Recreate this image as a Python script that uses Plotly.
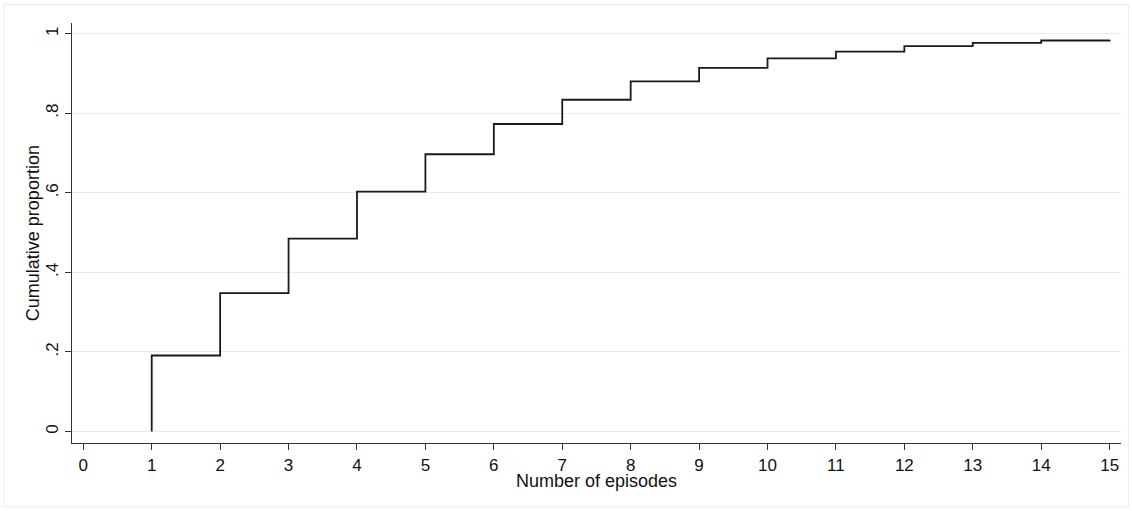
import plotly.graph_objects as go

# Data (cumulative proportion by number of episodes)
episodes = [1, 2, 3, 4, 5, 6, 7, 8, 9, 10, 11, 12, 13, 14, 15]
cum_prop = [0.191, 0.348, 0.485, 0.603, 0.697, 0.773, 0.834, 0.880, 0.914,
            0.938, 0.955, 0.969, 0.977, 0.983, 0.985]
start_x = [1]
start_y = [0.0]

x_ticks = list(range(0, 16))
y_ticks = [0, 0.2, 0.4, 0.6, 0.8, 1.0]
y_tick_labels = ["0", ".2", ".4", ".6", ".8", "1"]

FONT = "Liberation Sans, Arial, sans-serif"

fig = go.Figure()
fig.add_trace(go.Scatter(
    x=start_x + episodes,
    y=start_y + cum_prop,
    mode="lines",
    line=dict(color="#1a1a1a", width=1.8, shape="hv"),
    showlegend=False,
    hoverinfo="skip",
))

axis_common = dict(
    showline=True, linecolor="#333333", linewidth=1.4,
    ticks="outside", ticklen=6, tickwidth=1.4, tickcolor="#333333",
    tickfont=dict(family=FONT, size=17, color="#111111"),
    zeroline=False,
)

fig.update_xaxes(
    range=[-0.165, 15.166],
    tickvals=x_ticks,
    ticktext=[str(v) for v in x_ticks],
    showgrid=False,
    **axis_common,
)
fig.update_yaxes(
    range=[-0.029, 1.027],
    tickvals=y_ticks,
    ticktext=y_tick_labels,
    tickangle=-90,
    showgrid=True, gridcolor="#eaeaea", gridwidth=1.3,
    **axis_common,
)

fig.add_annotation(
    text="Number of episodes", xref="paper", yref="paper",
    x=0.5, y=-0.090, xanchor="center", yanchor="middle", showarrow=False,
    font=dict(family=FONT, size=18, color="#111111"),
)
fig.add_annotation(
    text="Cumulative proportion", xref="paper", yref="paper",
    x=-0.037, y=0.5, xanchor="center", yanchor="middle", showarrow=False,
    textangle=-90,
    font=dict(family=FONT, size=18, color="#111111"),
)

# faint outer frame of the graph region
fig.add_shape(
    type="rect", xref="paper", yref="paper",
    x0=-0.0648, x1=1.0073, y0=-0.152, y1=1.044,
    line=dict(color="#eeeeee", width=1), fillcolor="rgba(0,0,0,0)", layer="below",
)

fig.update_layout(
    width=1132, height=511,
    margin=dict(l=72, r=11, t=23, b=68),
    paper_bgcolor="white", plot_bgcolor="white",
    font=dict(family=FONT),
)

fig.write_html(
    "out.html",
    config={"displayModeBar": False},
    post_script="document.body.style.margin='0';document.body.style.padding='0';",
)
